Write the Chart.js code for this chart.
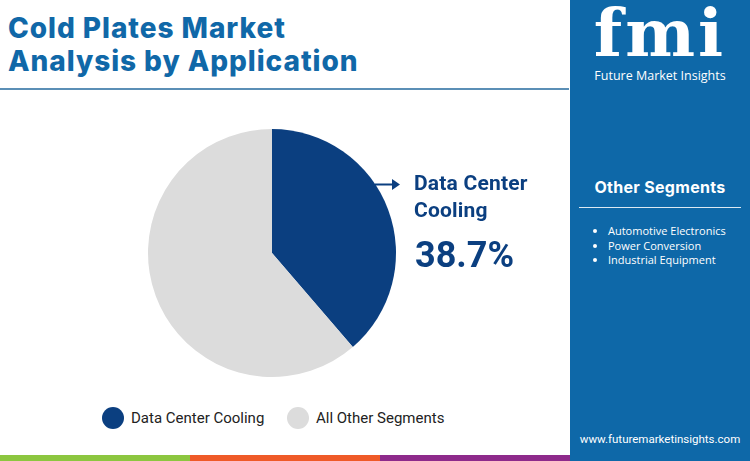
<!DOCTYPE html>
<html>
<head>
<meta charset="utf-8">
<script src="https://cdn.jsdelivr.net/npm/chart.js@4.4.1/dist/chart.umd.min.js"></script>
<style>
  html, body { margin: 0; padding: 0; }
  body { width: 750px; height: 461px; position: relative; overflow: hidden; background: #fff; font-family: Roboto, "Noto Sans", sans-serif; }
  .title { position: absolute; left: 8px; top: 12px; font-family: Inter, "Open Sans", sans-serif; font-weight: 800; font-size: 28px; line-height: 33px; color: #1068a8; letter-spacing: 0.95px; }
  .rule { position: absolute; left: 0; top: 88px; width: 569px; height: 2px; background: #5b8fb6; }
  .panel { position: absolute; left: 570px; top: 0; width: 180px; height: 461px; background: #0e68a8; color: #fff; }
  .logo { position: absolute; left: 0; width: 180px; top: 0px; text-align: center; font-family: "DejaVu Serif", serif; font-weight: bold; font-size: 66px; line-height: 66px; letter-spacing: 3px; }
  .logo-sub { position: absolute; left: 0; width: 180px; top: 67px; text-align: center; font-family: "Open Sans", sans-serif; font-size: 12.5px; }
  .seg-title { position: absolute; left: 0; width: 180px; top: 177px; text-align: center; font-family: Inter, "Open Sans", sans-serif; font-weight: 700; font-size: 16px; letter-spacing: 0.3px; }
  .seg-rule { position: absolute; left: 9px; width: 162px; top: 207px; height: 1px; background: #dce9f3; }
  .seg-list { position: absolute; left: 38px; top: 224px; margin: 0; padding: 0; font-family: "Open Sans", sans-serif; font-size: 11px; line-height: 14.5px; }
  .seg-list li { margin: 0; padding-left: 0; }
  .url { position: absolute; left: 0; width: 180px; top: 432px; text-align: center; font-family: Roboto, sans-serif; font-size: 11.5px; }
  .bar { position: absolute; top: 455px; height: 6px; width: 190px; }
  #chartBox { position: absolute; left: 140px; top: 121px; width: 264px; height: 264px; }
  .callout { position: absolute; left: 414px; top: 170px; font-family: Roboto, sans-serif; font-weight: 700; font-size: 21px; line-height: 27px; color: #0b3f80; letter-spacing: 0.2px; }
  .pct { position: absolute; left: 415px; top: 234px; font-family: Roboto, sans-serif; font-weight: 700; font-size: 36px; color: #0b3f80; }
  .arrow { position: absolute; left: 374px; top: 177px; }
  .legend { position: absolute; top: 407px; font-size: 15px; color: #222; display: flex; align-items: center; }
  .legend span.dot { display: inline-block; width: 22px; height: 22px; border-radius: 50%; margin-right: 7px; }
</style>
</head>
<body>
<div class="title">Cold Plates Market<br>Analysis by Application</div>
<div class="rule"></div>

<div id="chartBox"><canvas id="pie"></canvas></div>

<svg class="arrow" width="30" height="16">
  <line x1="1" y1="7.5" x2="22" y2="7.5" stroke="#0b3f80" stroke-width="2"/>
  <polygon points="18,2 26,7.5 18,13" fill="#0b3f80"/>
</svg>
<div class="callout" id="callout"></div>
<div class="pct" id="pct"></div>

<div id="legend"></div>

<div class="bar" style="left:0;background:#8cc63f"></div>
<div class="bar" style="left:190px;background:#ef5a28"></div>
<div class="bar" style="left:380px;background:#8e2a8b"></div>

<div class="panel">
  <div class="logo">fmi</div>
  <div class="logo-sub">Future Market Insights</div>
  <div class="seg-title">Other Segments</div>
  <div class="seg-rule"></div>
  <ul class="seg-list" id="segList"></ul>
  <div class="url">www.futuremarketinsights.com</div>
</div>

<script>
const categories = ['Data Center Cooling', 'All Other Segments'];
const shares = [38.7, 61.3];
const sliceColors = ['#0b3f80', '#dcdcdc'];
const otherSegments = ['Automotive Electronics', 'Power Conversion', 'Industrial Equipment'];

new Chart(document.getElementById('pie').getContext('2d'), {
  type: 'pie',
  data: {
    labels: categories,
    datasets: [{
      data: shares,
      backgroundColor: sliceColors,
      borderWidth: 0
    }]
  },
  options: {
    responsive: true,
    maintainAspectRatio: false,
    animation: false,
    layout: { padding: 8 },
    plugins: {
      legend: { display: false },
      tooltip: { enabled: false }
    }
  }
});

// callout text
document.getElementById('callout').innerHTML = 'Data Center<br>Cooling';
document.getElementById('pct').textContent = shares[0].toFixed(1) + '%';

// html legend
const legendX = [102, 287];
const legendBox = document.getElementById('legend');
categories.forEach((name, i) => {
  const item = document.createElement('div');
  item.className = 'legend';
  item.style.left = legendX[i] + 'px';
  item.innerHTML = `<span class="dot" style="background:${sliceColors[i]}"></span>${name}`;
  legendBox.appendChild(item);
});

const list = document.getElementById('segList');
otherSegments.forEach(s => {
  const li = document.createElement('li');
  li.textContent = s;
  list.appendChild(li);
});
</script>
</body>
</html>
